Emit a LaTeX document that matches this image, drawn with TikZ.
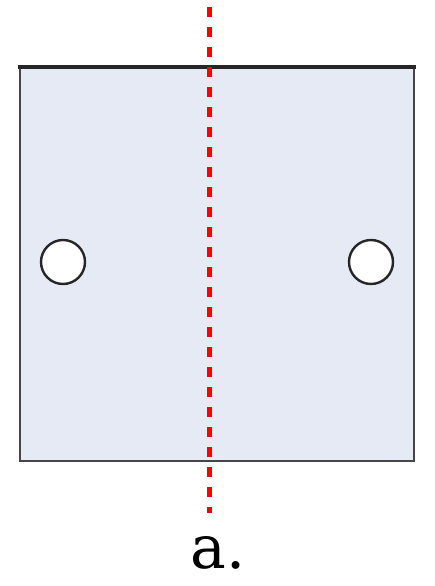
\documentclass[tikz,border=0pt]{standalone}
\usepackage{fontspec}
\newfontfamily\labelfont{DejaVu Serif}
\definecolor{platefill}{RGB}{230,234,244}
\definecolor{edgegrey}{RGB}{70,70,70}
\definecolor{axisred}{RGB}{255,0,0}
\begin{document}
\begin{tikzpicture}[x=1pt,y=-1pt,
  plate/.style={fill=platefill,draw=edgegrey,line width=2.2pt},
  hole/.style={circle,draw=black!85,line width=2.4pt,fill=white,minimum size=44pt,inner sep=0pt},
  axis/.style={draw=axisred,line width=5pt,dash pattern=on 10pt off 10pt}]
\useasboundingbox (0,0) rectangle (435,586);
\path[plate] (20,66) rectangle (414,461);
\draw[black!85,line width=4pt] (18,67) -- (416,67);
\node[hole] (h1) at (63,262) {};
\node[hole] (h2) at (371,262) {};
\coordinate (t) at (209,7);
\coordinate (b) at (209,513);
\draw[axis] (t) -- (b);
\node[font=\labelfont\fontsize{60}{60}\selectfont,anchor=base] (lab) at (218,568) {a.};
\end{tikzpicture}
\end{document}
